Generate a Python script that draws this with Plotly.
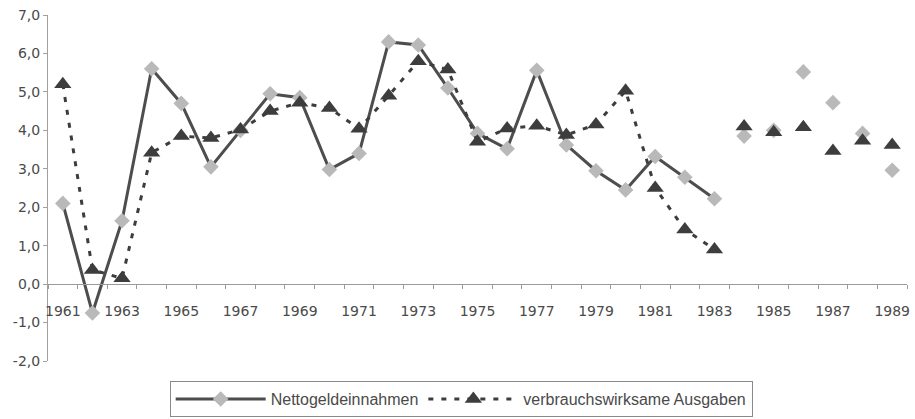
import plotly.graph_objects as go

years = list(range(1961, 1990))
netto = [2.1, -0.75, 1.65, 5.6, 4.7, 3.05, 4.0, 4.95, 4.85, 2.98, 3.4, 6.3, 6.22, 5.1,
         3.92, 3.52, 5.56, 3.62, 2.95, 2.45, 3.32, 2.78, 2.22,
         3.85, 4.0, 5.52, 4.72, 3.92, 2.96]
ausgaben = [5.2, 0.37, 0.15, 3.42, 3.85, 3.8, 4.02, 4.5, 4.72, 4.58, 4.04, 4.9, 5.8, 5.58,
            3.7, 4.05, 4.12, 3.88, 4.15, 5.03, 2.5, 1.42, 0.9,
            4.1, 3.95, 4.08, 3.46, 3.73, 3.62]
line_end_year = 1983
xtick_years = list(range(1961, 1990, 2))
ytick_vals = [-2, -1, 0, 1, 2, 3, 4, 5, 6, 7]
ytick_text = ["-2,0", "-1,0", "0,0", "1,0", "2,0", "3,0", "4,0", "5,0", "6,0", "7,0"]

n_line = years.index(line_end_year) + 1
tick_font = "DejaVu Sans, Arial, sans-serif"
legend_font = "Liberation Sans, Arial, sans-serif"
txt = "#4a4a4a"

fig = go.Figure()
fig.add_trace(go.Scatter(
    x=years[:n_line], y=netto[:n_line], mode="lines+markers", name="Nettogeldeinnahmen",
    line=dict(color="#4d4d4d", width=3),
    marker=dict(symbol="diamond", size=12, color="#b9b9b9", line=dict(width=0)),
))
fig.add_trace(go.Scatter(
    x=years[n_line:], y=netto[n_line:], mode="markers", showlegend=False,
    marker=dict(symbol="diamond", size=12, color="#b9b9b9", line=dict(width=0)),
))
fig.add_trace(go.Scatter(
    x=years[:n_line], y=ausgaben[:n_line], mode="lines+markers", name="verbrauchswirksame Ausgaben",
    line=dict(color="#3d3d3d", width=3, dash="5px,8px"),
    marker=dict(symbol="triangle-up", size=15, color="#3d3d3d", line=dict(width=0)),
))
fig.add_trace(go.Scatter(
    x=years[n_line:], y=ausgaben[n_line:], mode="markers", showlegend=False,
    marker=dict(symbol="triangle-up", size=15, color="#3d3d3d", line=dict(width=0)),
))

fig.update_layout(
    width=915, height=419,
    margin=dict(l=48, r=8, t=15, b=58, autoexpand=False),
    paper_bgcolor="white", plot_bgcolor="white",
    font=dict(family=tick_font, size=14, color=txt),
    legend=dict(
        orientation="h", x=0.481, xanchor="center", y=-0.058, yanchor="top",
        bordercolor="#8a8a8a", borderwidth=1, itemwidth=90,
        font=dict(family=legend_font, size=16, color=txt), bgcolor="white",
    ),
    xaxis=dict(
        range=[1960.5, 1989.5], tickmode="array", tickvals=xtick_years,
        ticktext=[str(y) for y in xtick_years], automargin=False,
        showgrid=False, zeroline=False, showline=True, linecolor="#9a9a9a", linewidth=1,
        anchor="free", position=2 / 9, ticks="", ticklabelstandoff=14,
        ticklabeloverflow="allow",
        minor=dict(tickmode="linear", tick0=1960.5, dtick=1, ticks="outside",
                   ticklen=4, tickcolor="#9a9a9a", showgrid=False),
        tickfont=dict(family=tick_font, size=14, color=txt),
    ),
    yaxis=dict(
        range=[-2, 7], tickmode="array", tickvals=ytick_vals, ticktext=ytick_text,
        automargin=False,
        showgrid=False, zeroline=False, showline=True, linecolor="#a0a0a0", linewidth=1,
        ticks="outside", ticklen=4, tickcolor="#a0a0a0", ticklabelstandoff=0,
        tickfont=dict(family=tick_font, size=14, color=txt),
    ),
)

fig.write_html("out.html", config={"displayModeBar": False},
               post_script="document.body.style.margin='0';")
